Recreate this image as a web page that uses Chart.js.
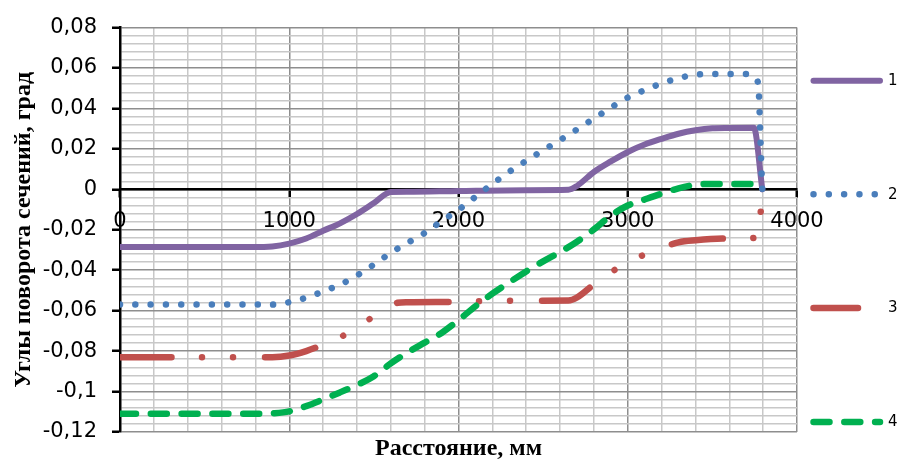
<!DOCTYPE html>
<html>
<head>
<meta charset="utf-8">
<script src="https://cdn.jsdelivr.net/npm/chart.js@4.4.1/dist/chart.umd.min.js"></script>
<style>
html,body{margin:0;padding:0;background:#fff;}
#wrap{width:901px;height:461px;position:relative;}
</style>
</head>
<body>
<div id="wrap"><canvas id="c" width="901" height="461"></canvas></div>
<script>
// ---- data ----
const seriesNames = ['1', '2', '3', '4'];

const s1X = [0, 850, 900, 1000, 1100, 1200, 1300, 1400, 1500, 1600, 1700, 2000, 2400, 2650, 2700, 2800, 2900, 3000, 3100, 3200, 3300, 3400, 3500, 3600, 3745, 3795];
const s1Y = [-0.0285, -0.0285, -0.0283, -0.0268, -0.0243, -0.0205, -0.0168, -0.0122, -0.0068, -0.0013, -0.0012, -0.0008, -0.0004, -0.0002, 0.0017, 0.0086, 0.0138, 0.0185, 0.0222, 0.0250, 0.0275, 0.0292, 0.0302, 0.0304, 0.0305, 0];

const s2X = [0, 900, 1000, 1100, 1200, 1300, 1400, 1500, 1600, 1700, 1800, 1900, 2000, 2100, 2200, 2300, 2400, 2500, 2600, 2700, 2800, 2900, 3000, 3100, 3200, 3300, 3400, 3500, 3700, 3760, 3775, 3782, 3790, 3795];
const s2Y = [-0.057, -0.057, -0.0558, -0.0536, -0.0505, -0.0471, -0.0426, -0.0372, -0.0314, -0.0264, -0.0216, -0.0157, -0.0101, -0.0037, 0.0027, 0.0087, 0.0141, 0.0193, 0.0244, 0.0296, 0.0350, 0.0404, 0.0454, 0.0491, 0.0524, 0.0550, 0.0567, 0.0570, 0.0570, 0.0548, 0.0470, 0.0300, 0.0100, 0];

const s3X = [0, 900, 1000, 1100, 1200, 1300, 1400, 1500, 1600, 1640, 1700, 2000, 2300, 2650, 2700, 2800, 2900, 3000, 3100, 3200, 3300, 3400, 3600, 3770, 3795];
const s3Y = [-0.083, -0.083, -0.0822, -0.0800, -0.0768, -0.0732, -0.0683, -0.0628, -0.0580, -0.0561, -0.0558, -0.0556, -0.0551, -0.0550, -0.0535, -0.0470, -0.0410, -0.0363, -0.0322, -0.0290, -0.0262, -0.0252, -0.0243, -0.0239, 0];

const s4X = [0, 850, 900, 1000, 1100, 1200, 1300, 1400, 1500, 1600, 1700, 1800, 1900, 2000, 2100, 2200, 2300, 2400, 2500, 2600, 2700, 2800, 2900, 3000, 3100, 3200, 3300, 3400, 3500, 3700, 3760, 3795];
const s4Y = [-0.111, -0.111, -0.1108, -0.1098, -0.1072, -0.1039, -0.1004, -0.0968, -0.0924, -0.0861, -0.0806, -0.0758, -0.0710, -0.0647, -0.0578, -0.0516, -0.0460, -0.0406, -0.0356, -0.0310, -0.0259, -0.0198, -0.0130, -0.0080, -0.0050, -0.0021, 0.0005, 0.0023, 0.0027, 0.0027, 0.0025, 0];

const xMin = 0, xMax = 4000, xStep = 200, xLabelStep = 1000;
const yMin = -0.12, yMax = 0.08, yStep = 0.004, yLabelStep = 0.02;

const xTitle = 'Расстояние, мм';
const yTitle = 'Углы поворота сечений, град';

// ---- helpers ----
const pts = (xs, ys) => xs.map((x, i) => ({ x: x, y: ys[i] }));
const isMajorY = v => Math.abs(v / yLabelStep - Math.round(v / yLabelStep)) < 1e-6;
const isMajorX = v => Math.abs(v / xLabelStep - Math.round(v / xLabelStep)) < 1e-6;
const fmtY = v => Math.abs(v) < 1e-9 ? '0' : String(Math.round(v * 100) / 100).replace('.', ',');

const MAJOR_GRID = '#8e8e8e', MINOR_GRID = '#c8c8c8', CLEAR = 'rgba(0,0,0,0)';

const common = {
  pointRadius: 0,
  pointHoverRadius: 0,
  fill: false,
  borderCapStyle: 'round',
  borderJoinStyle: 'round',
  cubicInterpolationMode: 'monotone',
  clip: { left: 0, right: 6, top: 6, bottom: 6 }
};

const datasets = [
  Object.assign({}, common, { label: seriesNames[0], data: pts(s1X, s1Y), borderColor: '#8064A2', borderWidth: 6, borderDash: [], order: 4 }),
  Object.assign({}, common, { label: seriesNames[1], data: pts(s2X, s2Y), borderColor: '#4A7EBB', borderWidth: 6.5, borderDash: [0.01, 15.3], order: 3 }),
  Object.assign({}, common, { label: seriesNames[2], data: pts(s3X, s3Y), borderColor: '#C0504D', borderWidth: 6.5, borderDash: [51.5, 30.5, 0.01, 31, 0.01, 32], order: 2 }),
  Object.assign({}, common, { label: seriesNames[3], data: pts(s4X, s4Y), borderColor: '#00B050', borderWidth: 6.5, borderDash: [16, 14.8], order: 1 })
];

// side legend drawn through the chart's own dataset styles
const sideLegend = {
  id: 'sideLegend',
  afterDraw(chart) {
    const ctx = chart.ctx;
    const rowY = [80.7, 194.3, 308, 422];
    const xEnd = [880, 876, 858, 880];
    chart.data.datasets.forEach((ds, i) => {
      ctx.save();
      ctx.strokeStyle = ds.borderColor;
      ctx.lineWidth = ds.borderWidth;
      ctx.lineCap = 'round';
      ctx.setLineDash(i === 2 ? [] : (ds.borderDash || []));
      ctx.beginPath();
      ctx.moveTo(813.5, rowY[i]);
      ctx.lineTo(xEnd[i], rowY[i]);
      ctx.stroke();
      ctx.setLineDash([]);
      ctx.fillStyle = '#000';
      ctx.font = '15px "DejaVu Sans"';
      ctx.textBaseline = 'middle';
      ctx.textAlign = 'left';
      ctx.fillText(ds.label, 888, rowY[i] + 0.5);
      ctx.restore();
    });
  }
};

new Chart(document.getElementById('c'), {
  type: 'line',
  data: { datasets: datasets },
  options: {
    responsive: false,
    animation: false,
    devicePixelRatio: 1,
    events: [],
    layout: { padding: { left: 0, top: 24, right: 104, bottom: 0 } },
    plugins: {
      legend: { display: false },
      tooltip: { enabled: false },
      title: {
        display: true,
        text: xTitle,
        position: 'bottom',
        fullSize: false,
        color: '#000',
        font: { family: 'Liberation Serif', size: 24, weight: 'bold', lineHeight: 1 },
        padding: { top: 5, bottom: 0 }
      }
    },
    scales: {
      x: {
        type: 'linear',
        min: xMin,
        max: xMax,
        position: { y: 0 },
        ticks: {
          stepSize: xStep,
          autoSkip: false,
          maxRotation: 0,
          minRotation: 0,
          padding: 13,
          color: '#000',
          font: { family: 'DejaVu Sans', size: 21 },
          callback: v => isMajorX(v) ? String(v) : ''
        },
        grid: {
          color: c => (c.tick && isMajorX(c.tick.value)) ? MAJOR_GRID : MINOR_GRID,
          lineWidth: 1.5,
          tickLength: 7,
          tickWidth: 2.5,
          tickColor: c => (c.tick && isMajorX(c.tick.value)) ? '#000' : CLEAR
        },
        border: { color: '#000', width: 2.5 }
      },
      y: {
        type: 'linear',
        min: yMin,
        max: yMax,
        afterFit: s => { s.width = 120; },
        ticks: {
          stepSize: yStep,
          autoSkip: false,
          padding: 15,
          color: '#000',
          font: { family: 'DejaVu Sans', size: 21 },
          callback: v => isMajorY(v) ? fmtY(v) : ''
        },
        grid: {
          color: c => (c.tick && isMajorY(c.tick.value)) ? MAJOR_GRID : MINOR_GRID,
          lineWidth: 1.5,
          tickLength: 8,
          tickWidth: 2.5,
          tickColor: c => (c.tick && isMajorY(c.tick.value)) ? '#000' : CLEAR
        },
        border: { color: '#000', width: 2.5 },
        title: {
          display: true,
          text: yTitle,
          color: '#000',
          font: { family: 'Liberation Serif', size: 24, weight: 'bold' },
          padding: { top: 9, bottom: 0 }
        }
      }
    }
  },
  plugins: [sideLegend]
});
</script>
</body>
</html>
